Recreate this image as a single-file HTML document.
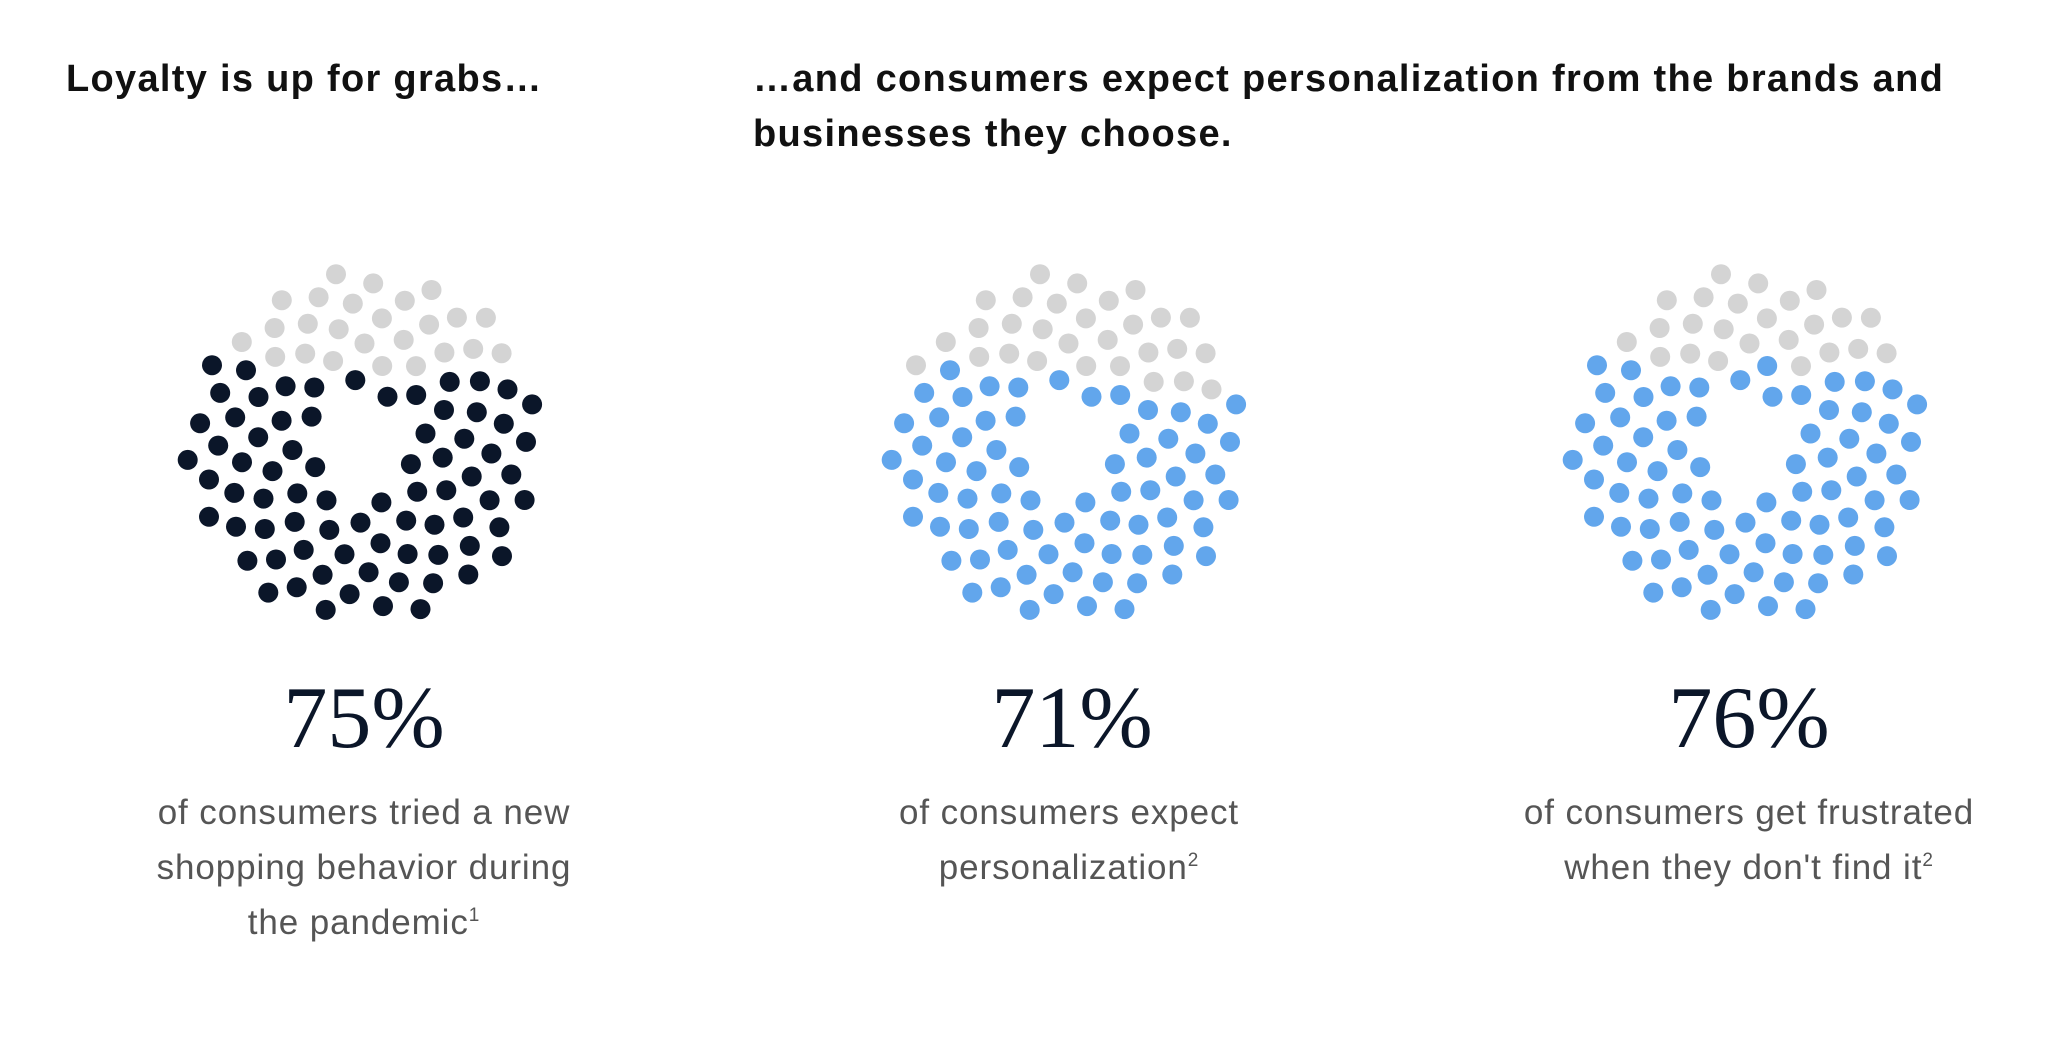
<!DOCTYPE html>
<html><head><meta charset="utf-8"><style>
body{margin:0;background:#fff;width:2054px;height:1046px;overflow:hidden;position:relative;font-family:"Liberation Sans",sans-serif}
.t{position:absolute;font-weight:bold;font-size:38px;color:#111;line-height:55px;letter-spacing:1.3px}
.p{position:absolute;width:600px;text-align:center;font-family:"Liberation Serif",serif;font-size:88px;color:#0b1629;top:668px}
.d{position:absolute;width:600px;text-align:center;font-size:35px;color:#555;line-height:55px;top:785px;letter-spacing:0.9px}
sup{font-size:19px;vertical-align:13px;line-height:0}
svg{position:absolute;left:0;top:0}
</style></head><body>
<div class="t" style="left:66px;top:52px">Loyalty is up for grabs…</div>
<div class="t" style="left:753px;top:52px">…and consumers expect personalization from the brands and<br>businesses they choose.</div>
<svg id="s" width="2054" height="1046"></svg>
<div class="p" style="left:64px">75%</div>
<div class="p" style="left:772px">71%</div>
<div class="p" style="left:1449px">76%</div>
<div class="d" style="left:64px">of consumers tried a new<br>shopping behavior during<br>the pandemic<sup>1</sup></div>
<div class="d" style="left:769px">of consumers expect<br>personalization<sup>2</sup></div>
<div class="d" style="left:1449px">of consumers get frustrated<br>when they don't find it<sup>2</sup></div>
<script>
var s=document.getElementById('s'),h='';
function ring(cx,cy,pct,col){
  var pts=[],R=178,N=108,g=Math.PI*(3-Math.sqrt(5));
  for(var i=8;i<N;i++){var r=R*Math.sqrt((i+0.5)/N),a=i*g;pts.push([cx+r*Math.cos(a),cy+r*Math.sin(a)]);}
  var sorted=pts.slice().sort(function(a,b){return (a[1]-a[0]*0.08)-(b[1]-b[0]*0.08)});
  var ng=Math.round(pts.length*(100-pct)/100);
  sorted.forEach(function(p,k){h+='<circle cx="'+p[0].toFixed(1)+'" cy="'+p[1].toFixed(1)+'" r="10" fill="'+(k<ng?'#d4d4d4':col)+'"/>';});
}
ring(364,447,75,'#0b1629');ring(1068,447,71,'#62a6ec');ring(1749,447,76,'#62a6ec');
s.innerHTML=h;
</script>
</body></html>
